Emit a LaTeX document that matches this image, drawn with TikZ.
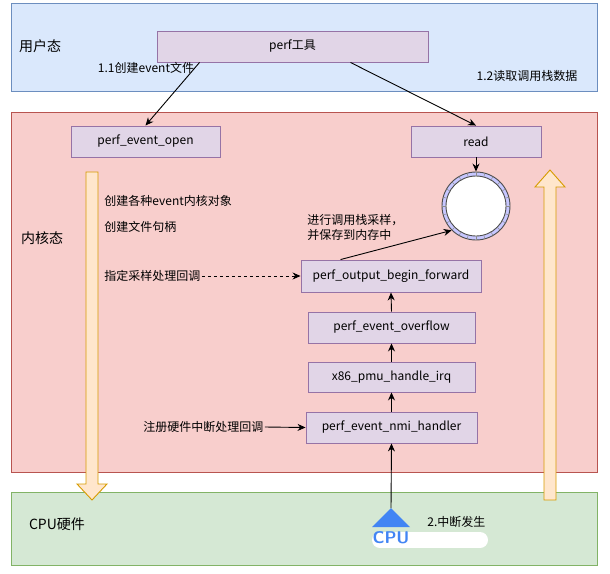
\documentclass[tikz,border=0pt]{standalone}
\usepackage{fontspec}
\setmainfont{Noto Sans CJK SC}
\usetikzlibrary{arrows.meta,calc}
\definecolor{ubg}{HTML}{DAE8FC}\definecolor{ubd}{HTML}{6C8EBF}
\definecolor{kbg}{HTML}{F8CECC}\definecolor{kbd}{HTML}{B85450}
\definecolor{cbg}{HTML}{D5E8D4}\definecolor{cbd}{HTML}{82B366}
\definecolor{pbg}{HTML}{E1D5E7}\definecolor{pbd}{HTML}{9673A6}
\definecolor{obg}{HTML}{FFE6CC}\definecolor{obd}{HTML}{D79B00}
\definecolor{cpublue}{HTML}{4285F4}
\begin{document}
\begin{tikzpicture}[x=1pt,y=-1pt,font=\fontsize{12}{15}\selectfont,line width=0.9pt,
 fn/.style={draw=pbd,fill=pbg,minimum height=31pt,inner sep=0pt},
 arr/.style={-{Stealth[length=8pt,width=7pt]},black},
 lbl/.style={inner sep=1pt}]
\useasboundingbox (0,0) rectangle (610,573);
\draw[ubd,fill=ubg] (11,3) rectangle (597,91);
\draw[kbd,fill=kbg] (11,112) rectangle (597,472);
\draw[cbd,fill=cbg] (11,492) rectangle (597,565);
\node[lbl,font=\fontsize{14}{16}\selectfont] at (40,46) {用户态};
\node[lbl,font=\fontsize{14}{16}\selectfont] at (42,238) {内核态};
\node[lbl,font=\fontsize{14}{16}\selectfont] at (57,524) {CPU硬件};
\node[fn,minimum width=271pt] (perf) at (292.5,46.5) {perf工具};
\node[fn,minimum width=149pt] (open) at (145.5,141.5) {perf\_event\_open};
\node[fn,minimum width=130pt] (read) at (476,141.5) {read};
\node[fn,minimum width=180pt,minimum height=32pt] (fwd) at (391,276) {perf\_output\_begin\_forward};
\node[fn,minimum width=167pt] (ovf) at (391.5,327.5) {perf\_event\_overflow};
\node[fn,minimum width=167pt,minimum height=30pt] (irq) at (391.5,377) {x86\_pmu\_handle\_irq};
\node[fn,minimum width=171pt] (nmi) at (391.5,427.5) {perf\_event\_nmi\_handler};
% ring buffer
\node[circle,draw=black!70,fill=blue!22,minimum size=68pt,inner sep=0pt] (ring) at (476,206) {};
\fill[white,draw=black!70] (476,206) circle (30pt);
\foreach \a in {0,15,...,345} \draw[black!45,line width=0.5pt] ($(476,206)+(\a:30pt)$) -- ($(476,206)+(\a:34pt)$);
% orange arrows
\draw[obd,fill=obg] (86,172) -- (98,172) -- (98,484) -- (107,484) -- (92,500) -- (77,484) -- (86,484) -- cycle;
\draw[obd,fill=obg] (544,500) -- (556,500) -- (556,187) -- (565,187) -- (550,170) -- (535,187) -- (544,187) -- cycle;
% labels
\node[lbl] (l11) at (146,68) {1.1创建event文件};
\node[lbl] (l12) at (527,76) {1.2读取调用栈数据};
\node[lbl,anchor=west] at (103,201) {创建各种event内核对象};
\node[lbl,anchor=west] at (103,227) {创建文件句柄};
\node[lbl,anchor=west] (cb) at (103,276) {指定采样处理回调};
\node[lbl,anchor=west] (hw) at (142,427) {注册硬件中断处理回调};
\node[lbl,anchor=west,align=left] (smp) at (306,227) {进行调用栈采样，\\并保存到内存中};
\node[lbl,anchor=west] at (426,522) {2.中断发生};
\fill[white] (380,532) rectangle (480,548);
\fill[white] (380,540) circle (8pt) (480,540) circle (8pt);
% CPU icon
\fill[cpublue] (391,508) -- (410,527) -- (372,527) -- cycle;
\node[text=cpublue,font=\sffamily\bfseries\fontsize{17}{17}\selectfont,inner sep=0pt] (cpu) at (391,538) {CPU};
\coordinate (cputop) at (391,508);
% connectors
\draw[arr] ($(perf.south west)+(43,0)$) -- (open.north);
\draw[arr] ($(perf.south east)+(-78,0)$) -- (read.north);
\draw[arr] (read.south) -- (ring.north);
\draw[arr] ($(fwd.north west)+(40,0)$) -- (ring.south west);
\draw[arr] (ovf.north) -- (fwd.south);
\draw[arr] (irq.north) -- (ovf.south);
\draw[arr] (nmi.north) -- (irq.south);
\draw[arr] (cputop) -- (nmi.south);
\draw[arr,dashed] (cb.east) -- (fwd.west);
\draw[arr] (hw.east) -- (nmi.west);
\end{tikzpicture}
\end{document}
